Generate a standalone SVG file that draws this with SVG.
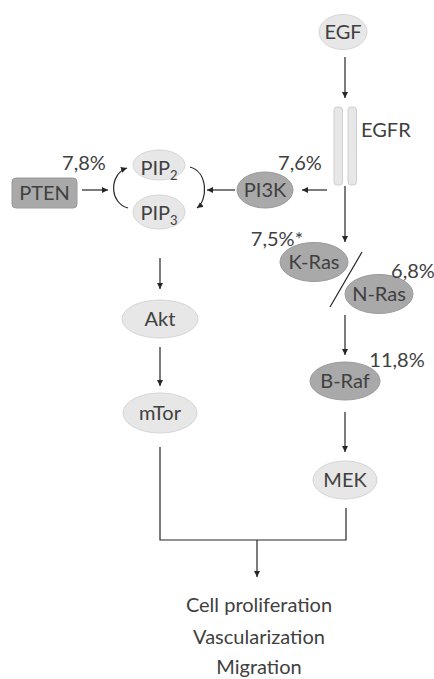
<svg xmlns="http://www.w3.org/2000/svg" width="434" height="679" viewBox="0 0 434 679">
<defs>
<marker id="ah" viewBox="0 0 10 10" refX="10" refY="5" markerWidth="6" markerHeight="6" markerUnits="userSpaceOnUse" orient="auto">
<path d="M0,0 L10,5 L0,10 z" fill="#262626"/>
</marker>
<style>
.t{font-family:Lato,"Open Sans",sans-serif;font-size:20px;fill:#404040;text-anchor:middle}
.tl{font-family:Lato,"Open Sans",sans-serif;font-size:20px;fill:#404040}
.sub{font-size:13px}
.light{fill:#e7e7e7;stroke:#d6d6d6;stroke-width:1}
.dark{fill:#a9a9a9;stroke:#9a9a9a;stroke-width:1}
.c{fill:none;stroke:#262626;stroke-width:1.2}
.a{marker-end:url(#ah)}
</style>
</defs>
<rect width="434" height="679" fill="#fff"/>
<g id="connectors">
<line class="c a" x1="345" y1="57" x2="345" y2="98"/>
<line class="c a" x1="327" y1="190" x2="302" y2="190"/>
<line class="c a" x1="235" y1="190" x2="207" y2="190"/>
<line class="c a" x1="82" y1="190" x2="108" y2="190"/>
<path class="c a" d="M128,208 C109,203 109,174 127,168"/>
<path class="c a" d="M190,167 C208,172 208,200 197,208"/>
<line class="c a" x1="345" y1="186" x2="345" y2="242"/>
<line class="c" x1="362" y1="252" x2="330" y2="307"/>
<line class="c a" x1="345" y1="315" x2="345" y2="355"/>
<line class="c a" x1="345" y1="412" x2="345" y2="452"/>
<line class="c a" x1="160" y1="258" x2="160" y2="289"/>
<line class="c a" x1="160" y1="347" x2="160" y2="386"/>
<polyline class="c" points="160,447 160,540 346,540 346,508"/>
<line class="c a" x1="257" y1="540" x2="257" y2="577"/>
</g>
<g id="EGF"><ellipse class="light" cx="343" cy="32" rx="24" ry="17.5"/><text class="t" x="343" y="39">EGF</text></g>
<g id="EGFR"><rect x="334" y="107" width="8.5" height="78" rx="3" fill="#e7e7e7" stroke="#cfcfcf"/><rect x="348" y="107" width="8.5" height="78" rx="3" fill="#e7e7e7" stroke="#cfcfcf"/><text class="tl" x="361" y="137">EGFR</text></g>
<g id="PI3K"><ellipse class="dark" cx="265" cy="190" rx="28" ry="18"/><text class="t" x="265" y="197">PI3K</text><text class="t" x="300" y="170">7,6%</text></g>
<g id="PTEN"><rect class="dark" x="12" y="178" width="65" height="30" rx="4"/><text class="t" x="44.5" y="200">PTEN</text><text class="t" x="84" y="170">7,8%</text></g>
<g id="PIP2"><ellipse class="light" cx="159" cy="165" rx="26" ry="15"/><text class="t" x="159" y="175">PIP<tspan class="sub" dy="5">2</tspan></text></g>
<g id="PIP3"><ellipse class="light" cx="159" cy="212" rx="26" ry="17"/><text class="t" x="159" y="220">PIP<tspan class="sub" dy="5">3</tspan></text></g>
<g id="KRas"><ellipse class="dark" cx="314" cy="262" rx="34" ry="19.5"/><text class="t" x="314" y="269">K-Ras</text><text class="t" x="277" y="246">7,5%*</text></g>
<g id="NRas"><ellipse class="dark" cx="379" cy="294" rx="34" ry="19.5"/><text class="t" x="379" y="301">N-Ras</text><text class="t" x="413" y="278">6,8%</text></g>
<g id="BRaf"><ellipse class="dark" cx="345" cy="381" rx="35" ry="19"/><text class="t" x="345" y="388">B-Raf</text><text class="t" x="397" y="367">11,8%</text></g>
<g id="MEK"><ellipse class="light" cx="345" cy="480" rx="32" ry="19"/><text class="t" x="345" y="487">MEK</text></g>
<g id="Akt"><ellipse class="light" cx="160" cy="319" rx="38" ry="19"/><text class="t" x="160" y="326">Akt</text></g>
<g id="mTor"><ellipse class="light" cx="160" cy="413" rx="37" ry="20"/><text class="t" x="160" y="420">mTor</text></g>
<g id="outcome"><text class="t" x="259" y="612">Cell proliferation</text><text class="t" x="259" y="644">Vascularization</text><text class="t" x="259" y="674">Migration</text></g>
</svg>
